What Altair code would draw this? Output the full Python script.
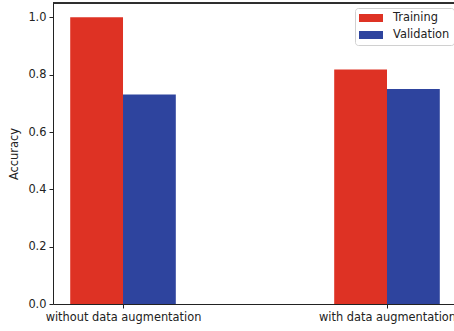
import altair as alt
import pandas as pd

categories = ["without data augmentation", "with data augmentation"]
series = ["Training", "Validation"]
training = [1.0, 0.818]
validation = [0.731, 0.75]
y_ticks = [0.0, 0.2, 0.4, 0.6, 0.8, 1.0]

rows = []
for i, c in enumerate(categories):
    rows.append({"category": c, "idx": i, "series": "Training", "value": training[i], "side": -1})
    rows.append({"category": c, "idx": i, "series": "Validation", "value": validation[i], "side": 0})
df = pd.DataFrame(rows)

bar_w = 0.2
font = "DejaVu Sans"
fs = 11.4
label_expr = "datum.value == 0 ? '%s' : (datum.value == 1 ? '%s' : '')" % (categories[0], categories[1])

rect_path = "M-2,-0.67L2,-0.67L2,0.67L-2,0.67Z"

bars = alt.Chart(df).transform_calculate(
    x0="datum.idx + datum.side * %f" % bar_w,
    x1="datum.idx + (datum.side + 1) * %f" % bar_w,
).mark_bar(stroke=None).encode(
    x=alt.X("x0:Q", scale=alt.Scale(domain=[-0.2652, 1.2538], nice=False, zero=False),
            axis=alt.Axis(values=[0, 1], labelExpr=label_expr, title=None, grid=False,
                          domainColor="#222", tickColor="#222", tickSize=4,
                          labelFont=font, labelFontSize=fs, labelColor="#222",
                          labelPadding=3, labelFlush=False)),
    x2="x1:Q",
    y=alt.Y("value:Q", scale=alt.Scale(domain=[0, 1.05], nice=False),
            axis=alt.Axis(values=y_ticks, format=".1f", title="Accuracy", grid=False,
                          domainColor="#222", tickColor="#222", tickSize=4,
                          labelFont=font, labelFontSize=fs, labelColor="#222",
                          labelPadding=3, titleFont=font, titleFontSize=fs,
                          titleFontWeight="normal", titleColor="#222", titlePadding=8)),
    y2=alt.datum(0),
    color=alt.Color("series:N", scale=alt.Scale(domain=series, range=["#de3224", "#2e449e"]),
                    legend=alt.Legend(title=None, orient="none", legendX=302, legendY=5,
                                      symbolType=rect_path, symbolSize=144, symbolStrokeWidth=0,
                                      symbolOpacity=1, symbolOffset=6,
                                      labelFont=font, labelFontSize=fs, labelColor="#222",
                                      fillColor="white", strokeColor="#d0d0d0", cornerRadius=3,
                                      padding=4, rowPadding=5, labelOffset=16)),
)

top_line = alt.Chart(df).mark_rule(color="#222", strokeWidth=1).encode(
    y=alt.value(0), x=alt.value(0), x2=alt.value(401)
)

chart = alt.layer(bars, top_line).properties(
    width=401, height=301,
    padding={"left": 53, "top": 3, "right": 0, "bottom": 27},
    autosize=alt.AutoSizeParams(type="none"),
).configure_view(stroke=None).configure(background="white")

chart.save("out.html", embed_options={"renderer": "svg", "actions": False})
